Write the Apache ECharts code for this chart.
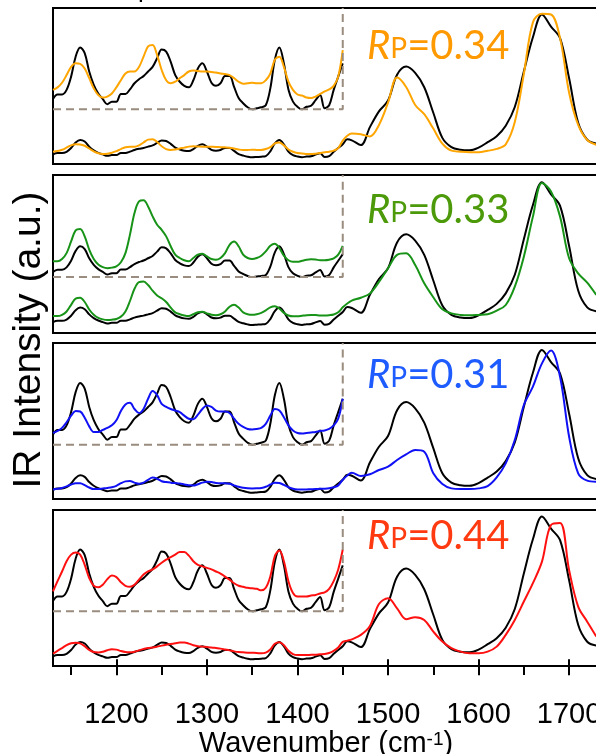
<!DOCTYPE html>
<html>
<head>
<meta charset="utf-8">
<script src="https://cdn.jsdelivr.net/npm/echarts@6/dist/echarts.min.js"></script>
<style>
  html, body { margin: 0; padding: 0; background: #fff; }
  #chart { width: 596px; height: 754px; }
</style>
</head>
<body>
<div id="chart"></div>
<script>
// Sampling grid in cm-1: 5 cm-1 steps through the fingerprint region, 10 cm-1 above 1460
const wavenumbers = [
  1130, 1135, 1140, 1145, 1150, 1155, 1160, 1165, 1170, 1175,
  1180, 1185, 1190, 1195, 1200, 1205, 1210, 1215, 1220, 1225,
  1230, 1235, 1240, 1245, 1250, 1255, 1260, 1265, 1270, 1275,
  1280, 1285, 1290, 1295, 1300, 1305, 1310, 1315, 1320, 1325,
  1330, 1335, 1340, 1345, 1350, 1355, 1360, 1365, 1370, 1375,
  1380, 1385, 1390, 1395, 1400, 1405, 1410, 1415, 1420, 1425,
  1430, 1435, 1440, 1445, 1450, 1455, 1460,
  1470, 1480, 1490, 1500, 1510, 1520, 1530, 1540, 1550, 1560,
  1570, 1580, 1590, 1600, 1610, 1620, 1630, 1640, 1650, 1660,
  1670, 1680, 1690, 1700, 1710, 1720, 1730
];

// Experimental spectrum (normalised to the amide I band)
const experiment = [
  0.020, 0.029, 0.029, 0.038, 0.064, 0.103, 0.121, 0.110, 0.074, 0.048,
  0.031, 0.020, 0.010, 0.015, 0.015, 0.030, 0.030, 0.039, 0.051, 0.059,
  0.065, 0.074, 0.083, 0.100, 0.117, 0.113, 0.093, 0.067, 0.054, 0.046,
  0.043, 0.057, 0.080, 0.090, 0.074, 0.052, 0.046, 0.051, 0.065, 0.065,
  0.044, 0.022, 0.012, 0.004, 0.000, 0.002, 0.004, 0.008, 0.041, 0.097,
  0.121, 0.090, 0.039, 0.015, 0.005, 0.000, 0.005, 0.007, 0.018, 0.028,
  0.002, 0.008, 0.038, 0.064, 0.090, 0.125, 0.118,
  0.085, 0.210, 0.320, 0.395, 0.575, 0.632, 0.588, 0.488, 0.310, 0.135,
  0.070, 0.052, 0.048, 0.067, 0.105, 0.147, 0.220, 0.350, 0.598, 0.836,
  0.995, 0.910, 0.830, 0.550, 0.240, 0.122, 0.095
];

// Computed spectra, one per panel
const computedA = [
  0.038, 0.043, 0.052, 0.067, 0.083, 0.090, 0.089, 0.080, 0.061, 0.041,
  0.028, 0.023, 0.025, 0.031, 0.043, 0.057, 0.070, 0.074, 0.074, 0.083,
  0.103, 0.123, 0.126, 0.106, 0.077, 0.057, 0.051, 0.054, 0.061, 0.067,
  0.074, 0.076, 0.075, 0.074, 0.074, 0.073, 0.072, 0.070, 0.069, 0.067,
  0.061, 0.054, 0.050, 0.051, 0.052, 0.051, 0.051, 0.057, 0.070, 0.097,
  0.103, 0.083, 0.054, 0.038, 0.029, 0.027, 0.023, 0.022, 0.025, 0.030,
  0.035, 0.039, 0.046, 0.064, 0.116, 0.150, 0.165,
  0.160, 0.145, 0.225, 0.380, 0.555, 0.490, 0.364, 0.300, 0.200, 0.095,
  0.046, 0.039, 0.035, 0.035, 0.045, 0.058, 0.090, 0.245, 0.580, 0.940,
  1.000, 0.995, 0.830, 0.450, 0.225, 0.120, 0.087
];
const computedB = [
  0.062, 0.062, 0.071, 0.094, 0.140, 0.184, 0.189, 0.160, 0.108, 0.071,
  0.049, 0.039, 0.035, 0.037, 0.042, 0.058, 0.094, 0.167, 0.252, 0.298,
  0.302, 0.278, 0.239, 0.206, 0.186, 0.160, 0.121, 0.088, 0.075, 0.066,
  0.062, 0.075, 0.088, 0.092, 0.081, 0.071, 0.068, 0.075, 0.094, 0.127,
  0.140, 0.121, 0.088, 0.075, 0.071, 0.075, 0.084, 0.101, 0.123, 0.131,
  0.114, 0.084, 0.066, 0.060, 0.060, 0.064, 0.068, 0.070, 0.069, 0.066,
  0.066, 0.068, 0.073, 0.088, 0.123, 0.150, 0.170,
  0.190, 0.220, 0.300, 0.395, 0.488, 0.499, 0.418, 0.290, 0.193, 0.109,
  0.081, 0.070, 0.067, 0.070, 0.074, 0.100, 0.139, 0.267, 0.476, 0.755,
  0.990, 0.930, 0.755, 0.465, 0.360, 0.295, 0.210
];
const computedC = [
  0.023, 0.027, 0.033, 0.044, 0.057, 0.066, 0.065, 0.053, 0.036, 0.025,
  0.025, 0.029, 0.033, 0.038, 0.048, 0.066, 0.079, 0.082, 0.070, 0.062,
  0.070, 0.090, 0.105, 0.097, 0.080, 0.074, 0.070, 0.067, 0.064, 0.057,
  0.051, 0.050, 0.059, 0.070, 0.077, 0.074, 0.067, 0.065, 0.065, 0.062,
  0.051, 0.041, 0.035, 0.031, 0.030, 0.031, 0.033, 0.041, 0.057, 0.070,
  0.067, 0.054, 0.038, 0.028, 0.023, 0.022, 0.023, 0.024, 0.025, 0.027,
  0.028, 0.031, 0.038, 0.051, 0.090, 0.120, 0.139,
  0.116, 0.128, 0.158, 0.181, 0.228, 0.267, 0.297, 0.286, 0.135, 0.060,
  0.030, 0.026, 0.026, 0.030, 0.046, 0.107, 0.204, 0.367, 0.611, 0.739,
  0.901, 0.990, 0.808, 0.390, 0.135, 0.084, 0.077
];
const computedD = [
  0.039, 0.059, 0.078, 0.098, 0.111, 0.115, 0.111, 0.091, 0.065, 0.050,
  0.047, 0.052, 0.063, 0.070, 0.067, 0.057, 0.050, 0.048, 0.052, 0.062,
  0.072, 0.078, 0.082, 0.088, 0.095, 0.101, 0.106, 0.111, 0.116, 0.116,
  0.109, 0.098, 0.091, 0.088, 0.085, 0.082, 0.078, 0.074, 0.068, 0.062,
  0.055, 0.050, 0.048, 0.046, 0.045, 0.044, 0.041, 0.046, 0.068, 0.108,
  0.119, 0.098, 0.059, 0.036, 0.029, 0.029, 0.029, 0.031, 0.032, 0.035,
  0.037, 0.044, 0.059, 0.082, 0.121, 0.130, 0.139,
  0.170, 0.232, 0.385, 0.425, 0.355, 0.279, 0.293, 0.274, 0.193, 0.123,
  0.077, 0.053, 0.042, 0.042, 0.053, 0.088, 0.170, 0.274, 0.402, 0.530,
  0.680, 0.936, 0.950, 0.620, 0.367, 0.262, 0.158
];

// Pearson correlation shown in each panel
const rpValues = ['0.34', '0.33', '0.31', '0.44'];

// Axis ticks (cm-1)
const majorTicks = [1200, 1300, 1400, 1500, 1600, 1700];
const minorTicks = [1150, 1250, 1350, 1450, 1550, 1650];

// Zoomed fingerprint window
const insetRange = [1130, 1450];
const insetBase = 0.334;
const insetGain = [3.56, 1.77, 3.56, 3.56];

const X_MIN = 1130, X_MAX = 1733;

const panels = [
  { data: computedA, line: '#ffa500', text: '#ff9900', top: 8,   height: 156, y: [-0.047, 1.040], labelTop: 26 },
  { data: computedB, line: '#179317', text: '#4c9a0a', top: 175, height: 158, y: [-0.056, 1.045], labelTop: 190 },
  { data: computedC, line: '#1010f5', text: '#1f5cff', top: 343, height: 156, y: [-0.044, 1.043], labelTop: 355 },
  { data: computedD, line: '#ff1010', text: '#ff3a10', top: 510, height: 156, y: [-0.047, 1.040], labelTop: 516 }
];

const FONT = '"Liberation Sans", Arial, sans-serif';

function pairs(values) {
  return wavenumbers.map((w, i) => [w, values[i]]);
}
function insetPairs(values, gain) {
  const out = [];
  wavenumbers.forEach((w, i) => {
    if (w >= insetRange[0] && w <= insetRange[1]) out.push([w, insetBase + gain * values[i]]);
  });
  return out;
}

const grid = [], xAxis = [], yAxis = [], series = [], graphic = [];

panels.forEach((p, k) => {
  grid.push({
    left: 53, width: 546, top: p.top, height: p.height,
    outerBoundsMode: 'none', containLabel: false,
    show: true, borderColor: '#000', borderWidth: 2, backgroundColor: 'transparent'
  });
  const last = k === panels.length - 1;
  xAxis.push({
    type: 'value', gridIndex: k, min: X_MIN, max: X_MAX, position: 'bottom',
    axisLine: { show: false },
    splitLine: { show: false },
    axisTick: last ? {
      show: true, inside: false, length: 16, customValues: majorTicks,
      lineStyle: { color: '#000', width: 2 }
    } : { show: false },
    axisLabel: last ? {
      show: true, customValues: majorTicks, margin: 34,
      fontSize: 29, color: '#000', fontFamily: FONT,
      formatter: v => String(v)
    } : { show: false },
    name: last ? '{t|Wavenumber (cm}{s|-1}{t|)}' : '',
    nameLocation: 'middle',
    nameGap: 58,
    nameTextStyle: {
      rich: {
        t: { fontSize: 29, color: '#000', fontFamily: FONT },
        s: { fontSize: 19, color: '#000', fontFamily: FONT, verticalAlign: 'top' }
      }
    }
  });
  yAxis.push({
    type: 'value', gridIndex: k, min: p.y[0], max: p.y[1], show: false
  });

  const common = {
    type: 'line', xAxisIndex: k, yAxisIndex: k, symbol: 'none', smooth: 0.35,
    animation: false, silent: true
  };
  // magnified fingerprint window
  series.push(Object.assign({}, common, {
    data: insetPairs(experiment, insetGain[k]), lineStyle: { color: '#000', width: 2 }
  }));
  series.push(Object.assign({}, common, {
    data: insetPairs(p.data, insetGain[k]), lineStyle: { color: p.line, width: 2 }
  }));
  // full spectra
  series.push(Object.assign({}, common, {
    data: pairs(experiment), lineStyle: { color: '#000', width: 2 }
  }));
  series.push(Object.assign({}, common, {
    data: pairs(p.data), lineStyle: { color: p.line, width: 2 }
  }));
  // dashed outline of the magnified window
  series.push({
    type: 'line', xAxisIndex: k, yAxisIndex: k, symbol: 'none', animation: false, silent: true,
    data: [[insetRange[0], insetBase], [insetRange[1], insetBase], [insetRange[1], p.y[1]]],
    lineStyle: { color: '#9a8c7e', width: 2, type: [8, 5] }
  });

  graphic.push({
    type: 'text', left: 367, top: p.labelTop, silent: true,
    style: {
      text: '{r|R}{p|P}{n|=' + rpValues[k] + '}',
      rich: {
        r: { fontSize: 40, lineHeight: 42, fontStyle: 'italic', fontFamily: 'Lato', fill: p.text, color: p.text },
        p: { fontSize: 28, lineHeight: 28, fontFamily: 'Lato', fill: p.text, color: p.text, verticalAlign: 'bottom', padding: [0, 0, 4, 0] },
        n: { fontSize: 40, lineHeight: 42, fontFamily: 'Lato', fill: p.text, color: p.text }
      }
    }
  });
});

// minor ticks on the bottom axis
xAxis.push({
  type: 'value', gridIndex: 3, min: X_MIN, max: X_MAX, position: 'bottom',
  axisLine: { show: false }, splitLine: { show: false },
  axisLabel: { show: false },
  axisTick: { show: true, inside: false, length: 9, customValues: minorTicks, lineStyle: { color: '#000', width: 2 } }
});

// y-axis title
graphic.push({
  type: 'text', x: 29, y: 340, rotation: Math.PI / 2, silent: true,
  style: {
    text: 'IR Intensity (a.u.)', fontSize: 39, fontFamily: FONT, fill: '#000',
    align: 'center', verticalAlign: 'middle'
  }
});
// descender of the heading above the plot
graphic.push({
  type: 'text', x: 138, y: 3, silent: true,
  style: { text: 'p', fontSize: 26, fontFamily: FONT, fill: '#000', align: 'left', verticalAlign: 'bottom' }
});

const chart = echarts.init(document.getElementById('chart'), null, { renderer: 'canvas' });
chart.setOption({
  animation: false,
  backgroundColor: '#fff',
  grid, xAxis, yAxis, series, graphic
});
</script>
</body>
</html>
